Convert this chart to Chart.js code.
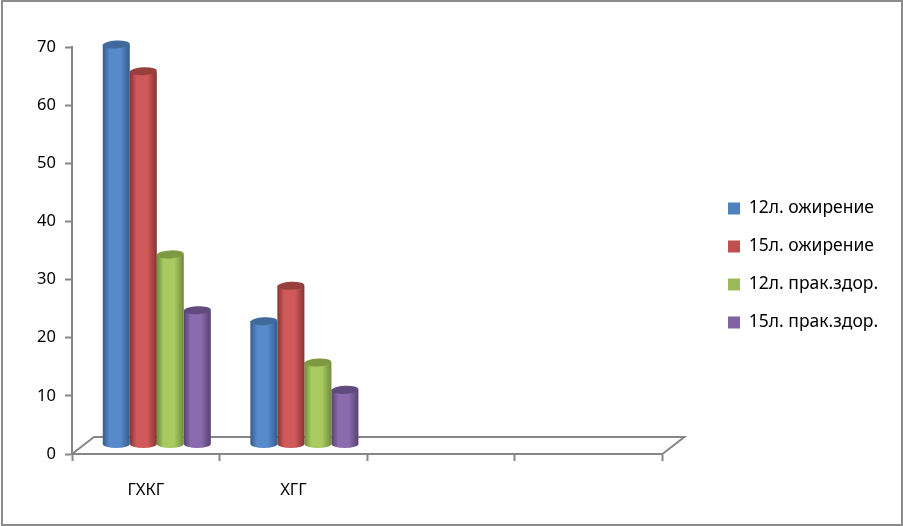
<!DOCTYPE html>
<html>
<head>
<meta charset="utf-8">
<style>
    html, body { margin: 0; padding: 0; background: #fff; }
    #box { position: relative; width: 903px; height: 526px; }
</style>
<script src="https://cdn.jsdelivr.net/npm/chart.js@4/dist/chart.umd.min.js"></script>
</head>
<body>
<div id="box"><canvas id="chart"></canvas></div>
<script>
// Данные с рисунка
const categories = ["ГХКГ", "ХГГ", "", ""];
const obesity12 = [70, 22.4];
const obesity15 = [65.4, 28.5];
const healthy12 = [33.9, 15.3];
const healthy15 = [24.3, 10.6];
const seriesNames = ["12л. ожирение", "15л. ожирение", "12л. прак.здор.", "15л. прак.здор."];
const yTicks = [0, 10, 20, 30, 40, 50, 60, 70];

// Цвета: легенда, край, середина цилиндра, крышка
const colors = [
    { flat: "#4f81bd", edge: "#345c8c", mid: "#568acb", cap: "#3f6a9b" },
    { flat: "#c0504d", edge: "#843533", mid: "#d0595a", cap: "#963f3c" },
    { flat: "#9bbb59", edge: "#6f8c3c", mid: "#a8ca60", cap: "#7d9a42" },
    { flat: "#8064a2", edge: "#56426f", mid: "#8a6bae", cap: "#604a7e" }
];

const axisColor = "#868686";
const depthX = 22;     // глубина пола
const depthY = 17;
const barShift = 11;   // цилиндры стоят посередине пола
const barLift = 2.5;
const barBase = 1.3;   // основание цилиндра над передним краем
const capRy = 4;

const legendPad = 20.5;

// Пол и рамка
const frame3d = {
    id: "frame3d",
    afterLayout(chart) {
        // легенда стоит отдельно от области графика
        const lg = chart.legend;
        const w = lg.width;
        lg.left = 728 - legendPad;
        lg.right = lg.left + w;
        lg.top -= 21;
        lg.bottom -= 21;
    },
    beforeDatasetsDraw(chart) {
        const c = chart.ctx, a = chart.chartArea;
        c.save();
        c.strokeStyle = axisColor;
        c.lineWidth = 2;
        c.beginPath();
        c.moveTo(a.left, a.bottom);
        c.lineTo(a.left + depthX, a.bottom - depthY);
        c.lineTo(a.right + depthX, a.bottom - depthY);
        c.lineTo(a.right, a.bottom);
        c.stroke();
        c.restore();
    },
    afterDraw(chart) {
        const c = chart.ctx;
        c.save();
        c.strokeStyle = "#8c8c8c";
        c.lineWidth = 2;
        c.strokeRect(2, 1, 900, 524);
        c.restore();
    },
    // цилиндры вместо плоских столбиков
    beforeDatasetDraw(chart, args) {
        const c = chart.ctx;
        const col = colors[args.index];
        args.meta.data.forEach(el => {
            const x = el.x + barShift, hw = el.width / 2;
            const top = el.y - barLift, bottom = el.base - barLift;
            const grad = c.createLinearGradient(x - hw, 0, x + hw, 0);
            grad.addColorStop(0, col.edge);
            grad.addColorStop(0.25, col.mid);
            grad.addColorStop(0.65, col.mid);
            grad.addColorStop(1, col.edge);
            c.save();
            c.fillStyle = grad;
            c.beginPath();
            c.moveTo(x - hw, top);
            c.lineTo(x - hw, bottom);
            c.ellipse(x, bottom, hw, capRy, 0, Math.PI, 0, true);
            c.lineTo(x + hw, top);
            c.closePath();
            c.fill();
            c.fillStyle = col.cap;
            c.beginPath();
            c.ellipse(x, top, hw, capRy, -0.05, 0, Math.PI * 2);
            c.fill();
            c.restore();
        });
        return false;
    }
};

const allSeries = [obesity12, obesity15, healthy12, healthy15];

new Chart(document.getElementById("chart"), {
    type: "bar",
    data: {
        labels: categories,
        datasets: allSeries.map((vals, i) => ({
            label: seriesNames[i],
            data: vals,
            base: barBase,
            backgroundColor: colors[i].flat,
            barPercentage: 1,
            categoryPercentage: 0.732
        }))
    },
    options: {
        responsive: true,
        maintainAspectRatio: false,
        animation: false,
        layout: { padding: { left: 0, top: 47, right: 60, bottom: 0 } },
        plugins: {
            title: { display: false },
            tooltip: { enabled: false },
            legend: {
                display: true,
                position: "right",
                labels: {
                    boxWidth: 12,
                    boxHeight: 12,
                    padding: legendPad,
                    color: "#000",
                    font: { family: "'Noto Sans'", size: 17.5 }
                }
            }
        },
        scales: {
            x: {
                afterFit(scale) { scale.height = 72; },
                border: { color: axisColor, width: 2 },
                grid: { display: true, drawOnChartArea: false, tickLength: 7, tickWidth: 2, tickColor: axisColor },
                ticks: { color: "#000", padding: 19, maxRotation: 0, font: { family: "'Noto Sans'", size: 16.5 } }
            },
            y: {
                min: 0,
                max: 70,
                afterFit(scale) { scale.width = 72; },
                afterBuildTicks(scale) { scale.ticks = yTicks.map(v => ({ value: v })); },
                border: { color: axisColor, width: 2 },
                grid: { display: true, drawOnChartArea: false, tickLength: 7, tickWidth: 2, tickColor: axisColor },
                ticks: { color: "#000", padding: 9, font: { family: "'Noto Sans'", size: 16.5 } }
            }
        }
    },
    plugins: [frame3d]
});
</script>
</body>
</html>
